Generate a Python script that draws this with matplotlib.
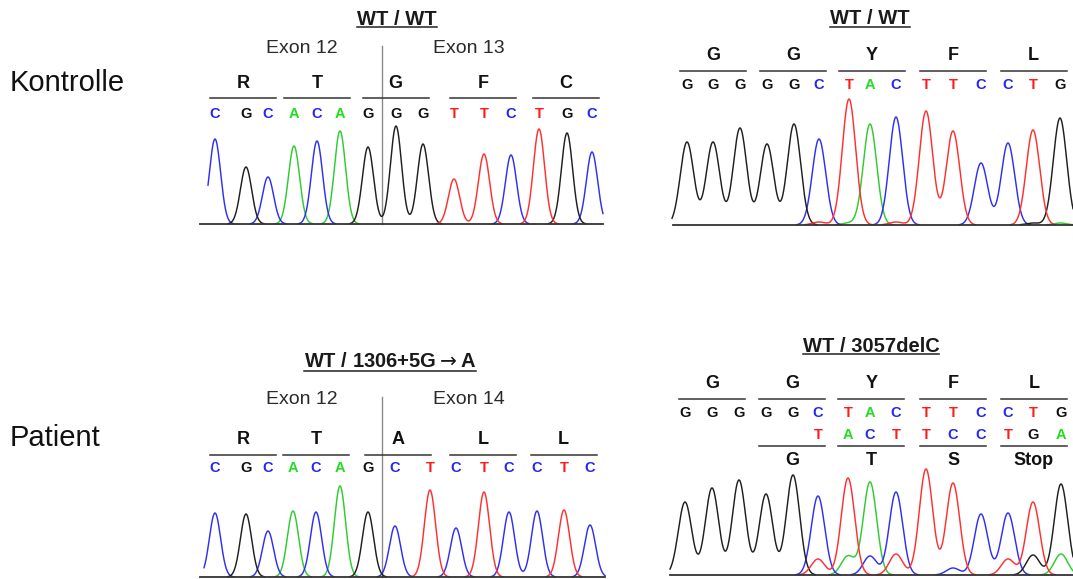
import matplotlib
matplotlib.use("Agg")
import matplotlib.pyplot as plt
import numpy as np
from matplotlib.lines import Line2D

plt.rcParams["font.family"] = ["Liberation Sans", "DejaVu Sans"]
plt.rcParams["mathtext.fontset"] = "dejavusans"

# ── Data: base calls, peak positions (scan units) and peak heights ───────────
# Kontrolle, exon 12/13 junction
ctrl_ex_bases = "CGCACAGGGTTCTGC"
ctrl_ex_pos = [0, 31, 53, 79, 102, 125, 153, 181, 208, 239, 269, 296, 324, 352, 377]
ctrl_ex_heights = [85, 57, 47, 78, 83, 93, 77, 98, 80, 45, 70, 69, 95, 91, 72]
ctrl_ex_aa = ["R", "T", "G", "F", "C"]

# Patient, exon 12/14 junction (1306+5G>A)
pat_ex_bases = "CGCACAGCTCTCCTC"
pat_ex_pos = [0, 31, 53, 78, 101, 125, 153, 180, 215, 241, 269, 294, 322, 349, 375]
pat_ex_heights = [64, 63, 46, 66, 65, 91, 65, 51, 87, 49, 85, 65, 66, 67, 52]
pat_ex_aa = ["R", "T", "A", "L", "L"]

# Kontrolle, 3057 region
ctrl_del_bases = "GGGGGCTACTTCCTG"
ctrl_del_pos = [0, 26, 53, 80, 107, 132, 162, 183, 209, 239, 266, 294, 321, 346, 373]
ctrl_del_heights = [83, 83, 97, 81, 101, 86, 126, 101, 108, 114, 94, 62, 82, 95, 107]
ctrl_del_aa = ["G", "G", "Y", "F", "L"]
ctrl_noise_bases = "TATGA"
ctrl_noise_idx = [5, 6, 8, 13, 14]
ctrl_noise_heights = [3, 2, 3, 2, 2]

# Patient, 3057delC (heterozygous, second sequence from index 5 on)
pat_del_bases = "GGGGGCTACTTCCTG"
pat_del_pos = [0, 27, 54, 81, 108, 133, 163, 185, 211, 241, 268, 296, 323, 348, 376]
pat_del_heights = [73, 87, 95, 81, 100, 79, 97, 93, 83, 106, 92, 61, 62, 73, 91]
pat_del_aa = ["G", "G", "Y", "F", "L"]
mut_bases = "TACTTCCTGA"
mut_heights = [16, 19, 19, 21, 0, 7, 0, 16, 20, 21]
mut_aa = ["G", "T", "S", "Stop"]

W, H = 1073, 579
trace_col = {"A": "#2ECC2E", "C": "#3030F0", "G": "#202020", "T": "#FF3030"}
text_col = {"A": "#22DD22", "C": "#2626EE", "G": "#111111", "T": "#FF1A1A"}

fig = plt.figure(figsize=(W / 100, H / 100), dpi=100)
fig.patch.set_facecolor("white")


def panel(left, right, top, base, origin):
    ax = fig.add_axes([left / W, 1 - base / H, (right - left) / W, (base - top) / H])
    ax.set_xlim(left - origin, right - origin)
    ax.set_ylim(0, base - top)
    ax.axis("off")
    return ax


def traces(ax, pos, bases, heights, sigma, x0, x1, extra=()):
    xs = np.linspace(x0, x1, 1200)
    sig = {b: np.zeros_like(xs) for b in "ACGT"}
    for p, b, h in list(zip(pos, bases, heights)) + list(extra):
        sig[b] += h * np.exp(-(xs - p) ** 2 / (2 * sigma ** 2))
    for b in "ACGT":
        y = sig[b].copy()
        y[y < 0.3] = np.nan
        ax.plot(xs, y, color=trace_col[b], lw=1.05, zorder=2, clip_on=False)


def baseline(ax, x0, x1):
    ax.plot([x0, x1], [-0.4, -0.4], color="#333333", lw=1.3, zorder=3, clip_on=False)


def bases_row(ax, base, pos, bases, row, start=0):
    for p, b in zip(pos[start:], bases):
        ax.text(p, base - row, b, ha="center", va="baseline", fontsize=10.5,
                fontweight="bold", color=text_col[b], clip_on=False)


def codons(ax, base, pos, aa, line_row, aa_row, first=0):
    for k, a in enumerate(aa):
        i = first + 3 * k
        c = np.mean(pos[i:i + 3])
        ax.plot([c - 33, c + 33], [base - line_row] * 2, color="#333333", lw=1.1,
                clip_on=False)
        ax.text(c, base - aa_row, a, ha="center", va="baseline", fontsize=13,
                fontweight="bold", color="#111111", clip_on=False)


titles = []


def title(ax, base, x, row, s, uline_row):
    t = ax.text(x, base - row, s, ha="center", va="baseline", fontsize=14.5,
                fontweight="bold", color="#1a1a1a", clip_on=False)
    titles.append((t, uline_row))


def exon_split(ax, base, pos, left_lab, right_lab, row, top_row):
    xb = (pos[6] + pos[7]) / 2
    ax.plot([xb, xb], [0, base - top_row], color="#8a8a8a", lw=1.0, zorder=1,
            clip_on=False)
    ax.text(xb - 80, base - row, left_lab, ha="center", va="baseline",
            fontsize=14, color="#2a2a2a", clip_on=False)
    ax.text(xb + 87, base - row, right_lab, ha="center", va="baseline",
            fontsize=14, color="#2a2a2a", clip_on=False)


# ── Panel 1: Kontrolle exon 12/13 ────────────────────────────────────────────
b1 = 224
ax1 = panel(200, 606, 0, b1, 215)
traces(ax1, ctrl_ex_pos, ctrl_ex_bases, ctrl_ex_heights, 5.6, -7, 388)
baseline(ax1, -15, 388)
bases_row(ax1, b1, ctrl_ex_pos, ctrl_ex_bases, 118.3)
codons(ax1, b1, ctrl_ex_pos, ctrl_ex_aa, 98.3, 87.7)
exon_split(ax1, b1, ctrl_ex_pos, "Exon 12", "Exon 13", 53.3, 46)
title(ax1, b1, 182, 25, "WT / WT", 27)

# ── Panel 2: Kontrolle 3057 region ───────────────────────────────────────────
b2 = 225
ax2 = panel(668, 1073, 0, b2, 687)
noise2 = [(ctrl_del_pos[i], b, h) for i, b, h in zip(ctrl_noise_idx, ctrl_noise_bases, ctrl_noise_heights)]
traces(ax2, ctrl_del_pos, ctrl_del_bases, ctrl_del_heights, 6.7, -15, 386, noise2)
baseline(ax2, -14, 386)
bases_row(ax2, b2, ctrl_del_pos, ctrl_del_bases, 89.3)
codons(ax2, b2, ctrl_del_pos, ctrl_del_aa, 70.7, 60)
title(ax2, b2, 183, 24, "WT / WT", 26.7)

# ── Panel 3: Patient exon 12/14 ──────────────────────────────────────────────
b3 = 577
ax3 = panel(200, 606, 330, b3, 215)
traces(ax3, pat_ex_pos, pat_ex_bases, pat_ex_heights, 5.6, -11, 390)
baseline(ax3, -15, 390)
bases_row(ax3, b3, pat_ex_pos, pat_ex_bases, 471.7)
codons(ax3, b3, pat_ex_pos, pat_ex_aa, 455, 444.3)
exon_split(ax3, b3, pat_ex_pos, "Exon 12", "Exon 14", 404, 397)
title(ax3, b3, 175, 367.3, r"WT / 1306+5G$\rightarrow$A", 370.7)

# ── Panel 4: Patient 3057delC ────────────────────────────────────────────────
b4 = 575
ax4 = panel(668, 1073, 330, b4, 685)
mut_peaks = [(pat_del_pos[5 + i], b, h) for i, (b, h) in enumerate(zip(mut_bases, mut_heights))]
traces(ax4, pat_del_pos, pat_del_bases, pat_del_heights, 6.7, -15, 388, mut_peaks)
baseline(ax4, -15, 388)
bases_row(ax4, b4, pat_del_pos, pat_del_bases, 416.7)
bases_row(ax4, b4, pat_del_pos, mut_bases, 439, start=5)
codons(ax4, b4, pat_del_pos, pat_del_aa, 399.3, 388.3)
codons(ax4, b4, pat_del_pos, mut_aa, 446, 465, first=3)
title(ax4, b4, 186, 351.7, "WT / 3057delC", 354)

# ── Row labels ───────────────────────────────────────────────────────────────
fig.text(10 / W, 1 - 90.7 / H, "Kontrolle", fontsize=21, va="baseline", color="#111111")
fig.text(10 / W, 1 - 445.7 / H, "Patient", fontsize=21, va="baseline", color="#111111")

# underline the panel titles
fig.canvas.draw()
renderer = fig.canvas.get_renderer()
for t, row in titles:
    bb = t.get_window_extent(renderer)
    fig.add_artist(Line2D([bb.x0 / W, bb.x1 / W], [1 - row / H] * 2,
                          transform=fig.transFigure, color="#222222", lw=1.1))

fig.savefig("out.png", dpi=100, facecolor="white")
plt.close(fig)
